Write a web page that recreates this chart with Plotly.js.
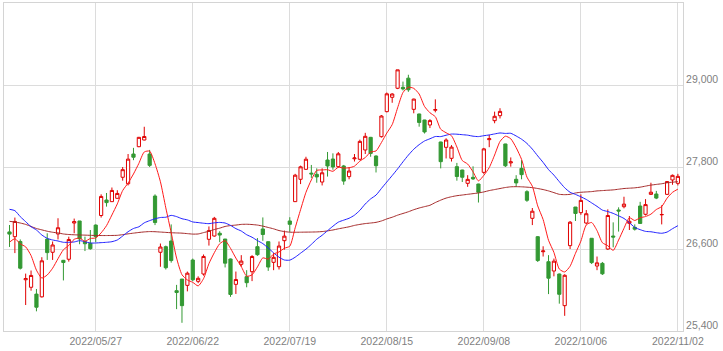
<!DOCTYPE html>
<html>
<head>
<meta charset="utf-8">
<script src="https://cdn.plot.ly/plotly-3.0.1.min.js"></script>
<style>html,body{margin:0;padding:0;background:#fff;}#chart{width:723px;height:351px;}</style>
</head>
<body>
<div id="chart"></div>
<script>
const dates = [
"2022/05/02","2022/05/06","2022/05/09","2022/05/10","2022/05/11","2022/05/12","2022/05/13","2022/05/16","2022/05/17","2022/05/18","2022/05/19","2022/05/20","2022/05/23","2022/05/24","2022/05/25","2022/05/26","2022/05/27","2022/05/30","2022/05/31",
"2022/06/01","2022/06/02","2022/06/03","2022/06/06","2022/06/07","2022/06/08","2022/06/09","2022/06/10","2022/06/13","2022/06/14","2022/06/15","2022/06/16","2022/06/17","2022/06/20","2022/06/21","2022/06/22","2022/06/23","2022/06/24","2022/06/27","2022/06/28","2022/06/29","2022/06/30",
"2022/07/01","2022/07/04","2022/07/05","2022/07/06","2022/07/07","2022/07/08","2022/07/11","2022/07/12","2022/07/13","2022/07/14","2022/07/15","2022/07/19","2022/07/20","2022/07/21","2022/07/22","2022/07/25","2022/07/26","2022/07/27","2022/07/28","2022/07/29",
"2022/08/01","2022/08/02","2022/08/03","2022/08/04","2022/08/05","2022/08/08","2022/08/09","2022/08/10","2022/08/12","2022/08/15","2022/08/16","2022/08/17","2022/08/18","2022/08/19","2022/08/22","2022/08/23","2022/08/24","2022/08/25","2022/08/26","2022/08/29","2022/08/30","2022/08/31",
"2022/09/01","2022/09/02","2022/09/05","2022/09/06","2022/09/07","2022/09/08","2022/09/09","2022/09/12","2022/09/13","2022/09/14","2022/09/15","2022/09/16","2022/09/20","2022/09/21","2022/09/22","2022/09/26","2022/09/27","2022/09/28","2022/09/29","2022/09/30",
"2022/10/03","2022/10/04","2022/10/05","2022/10/06","2022/10/07","2022/10/11","2022/10/12","2022/10/13","2022/10/14","2022/10/17","2022/10/18","2022/10/19","2022/10/20","2022/10/21","2022/10/24","2022/10/25","2022/10/26","2022/10/27","2022/10/28","2022/10/31",
"2022/11/01","2022/11/02"];

const openP = [26850,26780,26710,26150,26040,25940,25900,26745,26552,26820,26434,26450,26980,27010,26707,26683,26950,27090,27317,
27293,27342,27650,27555,27990,28097,28195,27990,27375,26552,26634,26717,25990,26160,26068,26439,26127,26234,26742,26790,26830,26746,
26454,26083,26376,26195,26268,26634,26893,26707,26405,26341,26722,27010,27293,27620,27766,27710,27693,27580,27902,27917,
27805,27815,27659,27920,27913,28049,28234,27961,28244,28610,28820,28952,28966,29100,28644,28576,28488,28415,28630,28166,28088,27927,
27805,27756,27561,27649,27551,27722,28200,28478,28551,28137,27860,27620,27780,27439,27049,26780,26560,26414,26278,26234,
25771,26649,27214,27132,26980,26757,26351,26390,26600,26790,27171,27219,26976,26917,27229,27108,27400,27405,27100,27400,
27610,27561];
const highP = [26951,27060,26740,26240,26285,26015,26480,26830,26710,27050,26440,26780,27045,27010,26780,26878,26960,27400,27420,
27500,27460,27800,27990,28080,28240,28389,28050,27400,26680,26650,26960,26075,26160,26270,26460,26200,26520,26930,27070,26860,26746,
26460,26270,26510,26290,26510,26760,27062,26710,26540,26710,26870,27065,27700,27820,27950,27830,27780,27780,28020,28000,
28020,27830,27800,27990,28200,28300,28240,27970,28560,28890,28880,29222,29050,29150,28800,28580,28490,28500,28790,28170,28220,28120,
27860,27760,27680,27810,27555,28080,28270,28610,28660,28140,27940,27680,27900,27460,27200,26790,26640,26510,26460,26240,
26230,27010,27215,27399,27170,26760,26490,26410,27180,26990,27210,27365,27083,26960,27290,27330,27570,27450,27240,27590,
27690,27700];
const lowP = [26630,26540,26300,25780,25990,25688,25890,26440,26440,26740,26140,26415,26830,26670,26570,26590,26700,27060,27220,
27290,27340,27600,27530,27900,28090,28190,27800,26950,26340,26300,26400,25720,25520,25980,26130,26100,26210,26650,26780,26700,26330,
25900,25942,26340,26040,26130,26500,26720,26280,26290,26300,26590,26850,27290,27550,27760,27640,27570,27530,27660,27760,
27790,27540,27620,27880,27900,27990,27950,27720,28230,28600,28740,28940,28920,28900,28586,28390,28290,28370,28600,27780,27925,27880,
27600,27580,27510,27610,27280,27700,28090,28440,28510,27800,27805,27510,27620,27290,26950,26410,26490,25940,26200,25800,
25622,26600,27010,27100,26960,26380,26290,26220,26585,26625,26855,27195,26878,26870,26966,27090,27390,27330,26960,27390,
27540,27530];
const closeP = [26818,27003,26319,26167,26213,25748,26427,26547,26659,26911,26402,26739,27001,26748,26677,26604,26781,27369,27279,
27457,27413,27761,27915,27943,28234,28246,27824,26987,26629,26326,26431,25963,25771,26246,26149,26171,26491,26871,27049,26804,26393,
25935,26153,26423,26107,26490,26517,26812,26336,26478,26643,26788,26961,27680,27803,27914,27699,27655,27715,27815,27801,
27993,27594,27741,27932,28175,28249,27999,27819,28546,28871,28868,29222,28942,28930,28794,28452,28313,28479,28641,27878,28195,28091,
27661,27650,27619,27626,27430,28065,28214,28542,28614,27818,27875,27567,27688,27313,27153,26431,26571,26173,26422,25937,
26215,26992,27120,27311,27116,26401,26397,26237,27090,26775,27156,27257,27006,26890,26974,27250,27431,27345,27105,27587,
27678,27663];

// 5-day moving average (red)
const ma5 = [26700,26751,26675,26631,26504,26290,26175,26220,26319,26458,26589,26652,26742,26760,26713,26754,26762,26836,26942,
27098,27260,27456,27565,27698,27853,28020,28032,27847,27584,27202,26839,26467,26224,26147,26112,26060,26166,26386,26546,26677,26722,
26610,26467,26342,26202,26222,26338,26470,26452,26527,26557,26611,26641,26910,27175,27429,27611,27750,27757,27760,27737,
27796,27784,27789,27812,27887,27938,28019,28035,28158,28297,28421,28665,28890,28967,28951,28868,28686,28594,28536,28353,28301,28257,
28093,27895,27843,27729,27597,27678,27791,27975,28173,28251,28213,28083,27912,27652,27519,27230,27031,26728,26550,26307,
26264,26348,26537,26715,26951,26988,26869,26692,26648,26580,26731,26903,27057,27017,27057,27075,27110,27178,27221,27344,
27429,27476];

// 25-day moving average (blue)
const ma25 = [27181,27161,27073,27000,26926,26878,26805,26756,26732,26717,26698,26698,26703,26722,26707,26688,26688,26693,26698,
26707,26732,26790,26853,26900,26925,26983,27015,27042,27061,27065,27092,27074,27043,27026,26996,26987,26977,26971,26983,26989,26980,
26946,26898,26863,26809,26772,26723,26679,26614,26544,26480,26439,26437,26480,26539,26598,26667,26743,26801,26868,26933,
26993,27022,27050,27095,27166,27259,27333,27389,27486,27581,27675,27772,27876,27974,28060,28127,28181,28213,28246,28245,28265,28282,
28280,28273,28266,28251,28245,28258,28269,28284,28298,28291,28293,28254,28207,28145,28062,27962,27867,27762,27681,27586,
27496,27430,27399,27364,27325,27275,27224,27169,27148,27121,27085,27047,26985,26916,26883,26858,26852,26839,26830,26848,
26897,26941];

// 75-day moving average (dark red)
const ma75 = [27005,26995,26980,26960,26930,26900,26880,26860,26845,26835,26820,26812,26808,26805,26803,26800,26798,26797,26797,
26798,26800,26810,26822,26832,26842,26850,26855,26853,26848,26843,26838,26835,26832,26825,26818,26820,26840,26860,26885,26905,26930,
26943,26950,26960,26962,26958,26950,26935,26915,26895,26870,26855,26846,26845,26846,26847,26848,26850,26855,26865,26878,
26895,26910,26925,26945,26960,26972,26980,26990,27010,27040,27065,27095,27120,27145,27175,27200,27220,27240,27280,27315,27345,27365,
27380,27390,27400,27410,27420,27435,27455,27470,27485,27500,27510,27512,27510,27505,27498,27485,27470,27450,27425,27400,
27395,27400,27420,27430,27435,27440,27450,27455,27460,27465,27475,27485,27490,27495,27505,27520,27535,27545,27555,27570,
27578,27585];

const xTickDates = ["2022/05/27","2022/06/22","2022/07/19","2022/08/15","2022/09/08","2022/10/06","2022/11/02"];
const yTickVals = [25400, 26600, 27800, 29000];
const yTickText = ["25,400", "26,600", "27,800", "29,000"];

const traces = [
  {
    type: 'candlestick', x: dates, open: openP, high: highP, low: lowP, close: closeP,
    increasing: {line: {color: '#e00000', width: 1}, fillcolor: '#ffffff'},
    decreasing: {line: {color: '#339933', width: 1}, fillcolor: '#339933'},
    whiskerwidth: 0, hoverinfo: 'skip', showlegend: false
  },
  {type: 'scatter', mode: 'lines', x: dates, y: ma75, line: {color: '#a52a2a', width: 1, shape: 'spline', smoothing: 0.6}, hoverinfo: 'skip', showlegend: false},
  {type: 'scatter', mode: 'lines', x: dates, y: ma25, line: {color: '#2020ff', width: 1, shape: 'spline', smoothing: 0.6}, hoverinfo: 'skip', showlegend: false},
  {type: 'scatter', mode: 'lines', x: dates, y: ma5, line: {color: '#ff1a1a', width: 1, shape: 'spline', smoothing: 0.6}, hoverinfo: 'skip', showlegend: false}
];

const layout = {
  width: 723, height: 351,
  margin: {l: 4, r: 40, t: 3, b: 20},
  paper_bgcolor: '#ffffff', plot_bgcolor: '#ffffff',
  showlegend: false,
  boxgap: 0.15,
  font: {family: 'Liberation Sans, Arial, sans-serif', size: 10.5, color: '#7f7f7f'},
  xaxis: {
    type: 'category', range: [-1.02, 124.95],
    tickmode: 'array', tickvals: xTickDates, ticktext: xTickDates,
    showgrid: true, gridcolor: '#dcdcdc', gridwidth: 1,
    showline: true, linecolor: '#d4d4d4', linewidth: 1, mirror: true,
    ticks: '', zeroline: false, fixedrange: true,
    rangeslider: {visible: false},
    tickfont: {family: 'Liberation Sans, Arial, sans-serif', size: 10.5, color: '#7f7f7f'}
  },
  yaxis: {
    side: 'right', range: [25400, 30200],
    tickmode: 'array', tickvals: yTickVals, ticktext: yTickText,
    showgrid: true, gridcolor: '#dcdcdc', gridwidth: 1,
    showline: true, linecolor: '#d4d4d4', linewidth: 1, mirror: true,
    ticks: '', zeroline: false, fixedrange: true,
    ticklabelshift: -6,
    tickfont: {family: 'Liberation Sans, Arial, sans-serif', size: 10.5, color: '#7f7f7f'}
  }
};

Plotly.newPlot('chart', traces, layout, {displayModeBar: false, staticPlot: true});
</script>
</body>
</html>
